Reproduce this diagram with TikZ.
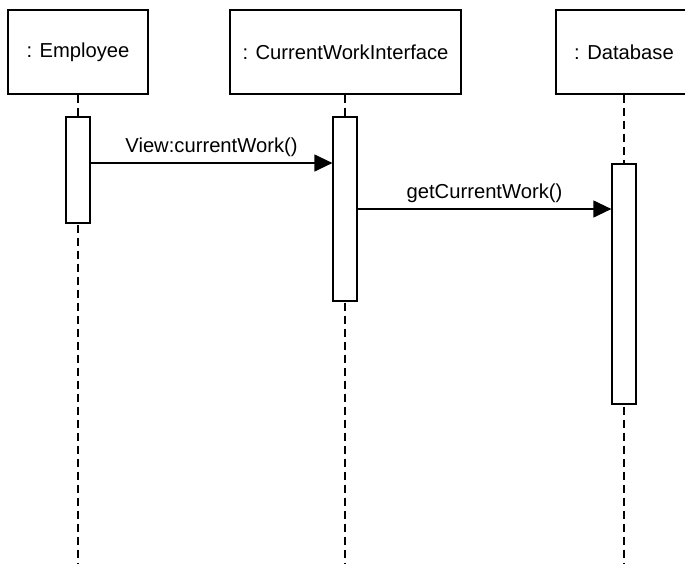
\documentclass[tikz,border=0pt]{standalone}
\usepackage{fontspec}
\setmainfont{Liberation Sans}
\usepackage{tikz}
\usetikzlibrary{arrows.meta}

\tikzset{
  objbox/.style={draw, line width=0.8pt, fill=white, minimum height=1.68cm, font=\fontsize{11.5}{13}\selectfont},
  actbar/.style={draw, line width=0.7pt, fill=white, minimum width=0.48cm},
  lifeline/.style={line width=0.7pt, dash pattern=on 0.16cm off 0.1cm},
  msg/.style={line width=0.7pt, -{Triangle[length=0.36cm, width=0.34cm]}},
  msglabel/.style={above, font=\fontsize{11.5}{13}\selectfont, inner sep=3pt}
}

\begin{document}
\begin{tikzpicture}
            \useasboundingbox (0, 0) rectangle (13.7, -11.28);
            \node[objbox, minimum width=2.8cm] (emp) at (1.56, -1.04) {: Employee};
            \node[objbox, minimum width=4.62cm] (cwi) at (6.91, -1.04) {: CurrentWorkInterface};
            \node[objbox, minimum width=2.72cm] (db) at (12.48, -1.04) {: Database};
            \coordinate (empend) at (1.56, -11.3);
            \coordinate (cwiend) at (6.9, -11.3);
            \coordinate (dbend) at (12.48, -11.3);
            \draw[lifeline] (emp.south) -- (empend);
            \draw[lifeline] (cwi.south -| cwiend) -- (cwiend);
            \draw[lifeline] (db.south) -- (dbend);
            \node[actbar, minimum height=2.12cm] (act1) at (1.56, -3.4) {};
            \node[actbar, minimum height=3.68cm] (act2) at (6.9, -4.18) {};
            \node[actbar, minimum height=4.8cm] (act3) at (12.48, -5.68) {};
            \coordinate (y1) at (0, -3.26);
            \coordinate (y2) at (0, -4.18);
            \draw[msg] (act1.east |- y1) -- node[msglabel] {View:currentWork()} (act2.west |- y1);
            \draw[msg] (act2.east |- y2) -- node[msglabel] {getCurrentWork()} (act3.west |- y2);
\end{tikzpicture}
\end{document}
